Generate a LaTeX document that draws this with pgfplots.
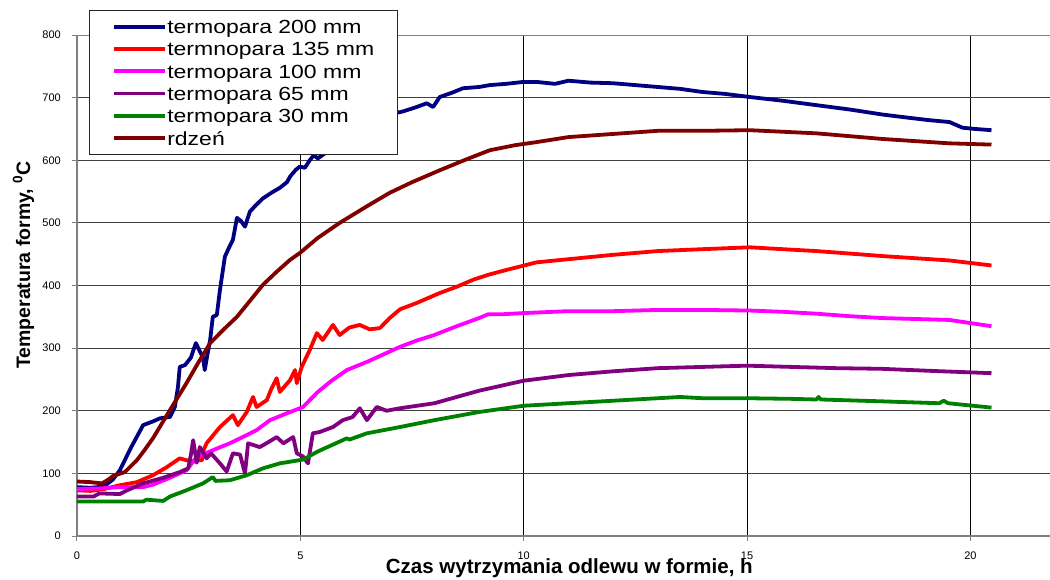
\documentclass[border=0pt]{standalone}
\usepackage{fontspec}
\setmainfont{Liberation Sans}
\newfontfamily\legfont[FakeStretch=1.21]{Liberation Sans}
\usepackage{pgfplots}
\pgfplotsset{compat=1.18}
\definecolor{cblue}{HTML}{000080}
\definecolor{cred}{HTML}{FF0000}
\definecolor{cmag}{HTML}{FF00FF}
\definecolor{cpur}{HTML}{800080}
\definecolor{cgreen}{HTML}{008000}
\definecolor{cbrown}{HTML}{800000}
\begin{document}
\begin{tikzpicture}
\begin{axis}[
  scale only axis, width=973pt, height=501pt,
  xmin=0, xmax=21.78, ymin=0, ymax=800,
  axis lines=left,
  axis line style={-, line width=2pt, draw=gray},
  xtick={0,5,10,15,20}, ytick={0,100,...,800},
  tick align=outside, major tick length=5pt,
  tick style={gray, line width=1pt},
  xmajorgrids, ymajorgrids,
  x grid style={black, line width=0.8pt},
  y grid style={black!75, line width=0.9pt},
  /pgf/number format/assume math mode=true,
  ticklabel style={font=\fontsize{11}{13}\selectfont},
  xticklabel style={anchor=north, inner sep=0pt, yshift=-11pt},
  yticklabel style={anchor=east, inner sep=0pt, xshift=-11pt},
  xlabel={Czas wytrzymania odlewu w formie, h},
  xlabel style={at={(axis description cs:0.506,-0.0758)}, anchor=base, inner sep=0pt, font=\fontsize{20.5}{24}\selectfont\bfseries},
  ylabel={Temperatura formy, \textsuperscript{0}C},
  ylabel style={at={(axis description cs:-0.0483,0.541)}, anchor=base, inner sep=0pt, font=\fontsize{19.5}{23}\selectfont\bfseries},
  legend style={at={(0,1)}, anchor=north west, xshift=12pt, yshift=25pt,
    draw=black!85, line width=1pt, fill=white,
    inner xsep=23pt, inner ysep=5pt, row sep=0pt,
    cells={anchor=west},
    nodes={inner sep=0pt, text height=18pt, text depth=4.3pt, font=\legfont\fontsize{19}{22}\selectfont}},
  legend image code/.code={\draw[#1, line width=3.2pt] (0pt,0pt) -- (46pt,0pt); \path (0pt,0pt) -- (51pt,0pt);},
  every axis plot/.append style={line width=3.8pt, no marks, line join=round},
]
\coordinate (O) at (rel axis cs:0,0);
\addplot[cblue] coordinates {(0,78)(0.3,77)(0.6,79)(0.8,90)(0.96,105)(1.2,140)(1.48,177)(1.7,183)(1.86,188)(2.08,190)(2.19,206)(2.26,238)(2.3,270)(2.42,273)(2.55,285)(2.66,308)(2.75,295)(2.82,285)(2.86,265)(2.92,290)(2.98,313)(3.04,350)(3.13,353)(3.2,393)(3.31,446)(3.4,460)(3.49,473)(3.58,508)(3.67,503)(3.76,494)(3.87,518)(4.0,528)(4.16,539)(4.35,548)(4.54,556)(4.7,565)(4.77,574)(4.9,585)(4.99,590)(5.1,588)(5.21,600)(5.3,608)(5.39,603)(5.55,611)(5.7,615)(6.0,630)(6.5,650)(7.11,675)(7.3,678)(7.6,685)(7.83,691)(7.97,685)(8.12,701)(8.4,708)(8.64,715)(9.0,717)(9.24,720)(9.6,722)(9.98,725)(10.3,725)(10.7,722)(11,727)(11.5,724)(12,723)(12.5,720)(13,717)(13.5,714)(14,709)(14.5,706)(15.06,701)(15.8,695)(16.55,688)(17.3,681)(18.03,673)(18.6,668)(19.08,664)(19.53,661)(19.82,652)(20.1,650)(20.47,648)};
\addlegendentry{termopara 200 mm}
\addplot[cred] coordinates {(0,73)(0.3,72)(0.6,75)(0.96,81)(1.34,86)(1.7,97)(2.01,110)(2.3,124)(2.45,121)(2.63,119)(2.68,121)(2.8,121)(2.82,135)(2.9,148)(3.2,174)(3.49,193)(3.6,177)(3.8,198)(3.94,222)(4.02,206)(4.25,217)(4.35,235)(4.47,252)(4.54,230)(4.77,249)(4.88,265)(4.92,244)(5.03,270)(5.21,297)(5.37,324)(5.5,313)(5.73,337)(5.88,321)(6.1,333)(6.33,337)(6.55,330)(6.78,332)(7.0,348)(7.23,362)(7.6,372)(8.12,388)(8.5,398)(8.86,409)(9.2,417)(9.62,425)(10.29,437)(11,442)(12,449)(13,455)(14,458)(15.06,461)(15.8,458)(16.55,455)(17.3,451)(18.03,447)(19.53,440)(20.47,432)};
\addlegendentry{termnopara 135 mm}
\addplot[cmag] coordinates {(0,75)(0.5,76)(0.96,78)(1.48,78)(1.7,82)(2.08,93)(2.45,105)(2.68,126)(3.04,137)(3.42,148)(3.71,158)(4.02,169)(4.32,185)(4.7,196)(5.06,206)(5.39,230)(5.7,248)(6.04,265)(6.49,278)(7.23,302)(7.6,312)(8.0,321)(8.5,335)(9.0,348)(9.2,354)(9.5,354)(10,356)(11,359)(12,359)(13,361)(14,361)(15.06,360)(15.8,358)(16.55,355)(17.3,351)(18.03,348)(19.53,345)(20.47,335)};
\addlegendentry{termopara 100 mm}
\addplot[cpur] coordinates {(0,63)(0.37,63)(0.5,68)(0.96,67)(1.12,73)(1.48,84)(1.93,93)(2.3,102)(2.49,108)(2.55,130)(2.6,153)(2.68,117)(2.75,142)(2.9,124)(3.0,132)(3.2,116)(3.35,103)(3.49,132)(3.65,130)(3.76,100)(3.83,148)(4.09,142)(4.24,148)(4.47,158)(4.62,148)(4.84,158)(4.92,132)(5.06,127)(5.17,116)(5.28,164)(5.43,166)(5.73,174)(5.95,185)(6.17,190)(6.33,204)(6.49,185)(6.71,206)(6.93,200)(7.23,204)(8,212)(9,232)(10,248)(11,257)(12,263)(13,268)(14,270)(15,272)(16,270)(17,268)(18,267)(19,264)(20.47,260)};
\addlegendentry{termopara 65 mm}
\addplot[cgreen] coordinates {(0,55)(0.5,55)(1.0,55)(1.48,55)(1.55,58)(1.93,56)(2.08,63)(2.45,73)(2.82,84)(3.04,94)(3.1,88)(3.42,89)(3.8,97)(4.16,108)(4.54,116)(5.06,122)(5.39,135)(5.7,145)(6.04,156)(6.1,154)(6.49,164)(7.23,174)(8,185)(9,198)(10,208)(11,212)(12,216)(13,220)(13.5,222)(14,220)(15,220)(16,219)(16.55,218)(16.6,222)(16.65,218)(18.03,215)(19.3,212)(19.4,216)(19.5,212)(20.47,205)};
\addlegendentry{termopara 30 mm}
\addplot[cbrown] coordinates {(0,87)(0.3,86)(0.56,84)(0.7,90)(0.81,96)(1.07,102)(1.34,121)(1.5,136)(1.7,156)(2.08,201)(2.45,244)(2.7,275)(2.98,308)(3.3,331)(3.58,350)(3.9,378)(4.16,401)(4.47,422)(4.77,441)(4.99,452)(5.39,476)(5.88,500)(6.5,527)(7.0,548)(7.5,565)(8.12,584)(8.7,601)(9.24,616)(9.8,624)(10.29,629)(11,637)(12,642)(13,647)(14,647)(15.06,648)(16.55,643)(18.03,634)(19.53,627)(20.47,625)};
\addlegendentry{rdzeń}
\draw[gray, line width=2pt] (rel axis cs:0,1) -- (rel axis cs:1,1);
\end{axis}
\pgfresetboundingbox
\path[use as bounding box] ([shift={(-77pt,-43pt)}]O) rectangle ([shift={(973pt,536pt)}]O);
\end{tikzpicture}
\end{document}
